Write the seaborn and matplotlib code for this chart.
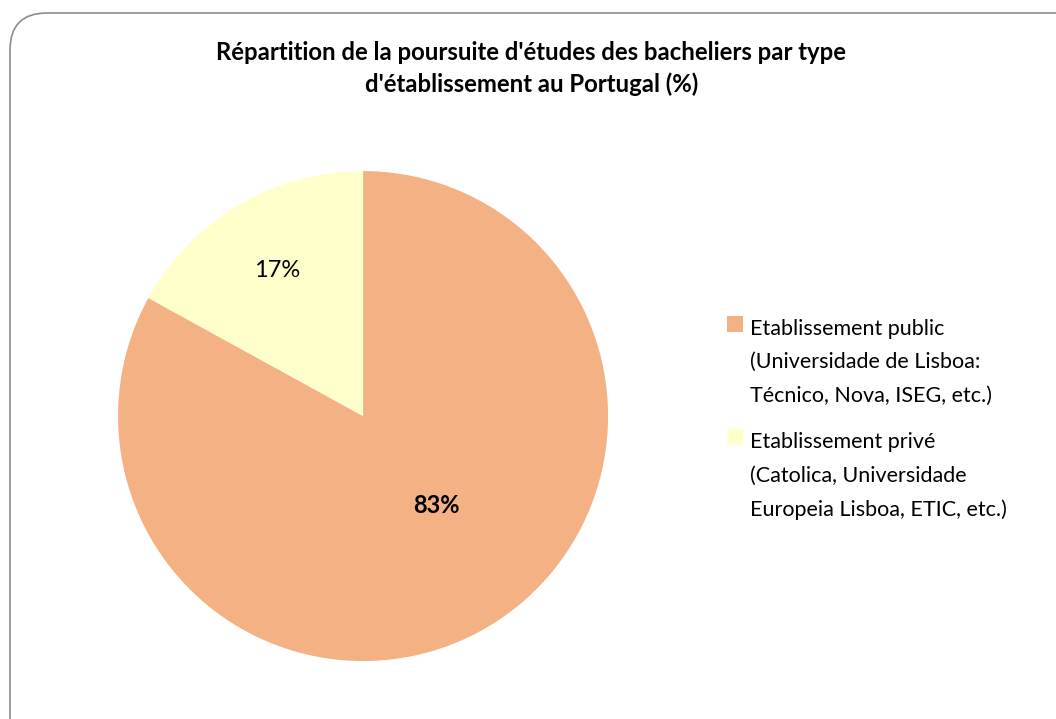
import matplotlib
matplotlib.use("Agg")
import matplotlib.pyplot as plt
from matplotlib.patches import FancyBboxPatch, Patch, Rectangle
from matplotlib.legend_handler import HandlerPatch
import seaborn as sns

sns.set_theme(style="white")
plt.rcParams['font.family'] = ['Lato', 'DejaVu Sans']
plt.rcParams['text.color'] = 'black'

# données
categories = ["Etablissement public\n(Universidade de Lisboa:\nTécnico, Nova, ISEG, etc.)",
              "Etablissement privé\n(Catolica, Universidade\nEuropeia Lisboa, ETIC, etc.)"]
parts = [83, 17]
colors = ["#F4B183", "#FFFFCC"]
title = "Répartition de la poursuite d'études des bacheliers par type\nd'établissement au Portugal (%)"

fig = plt.figure(figsize=(10.56, 7.19), dpi=100)

# cadre arrondi du graphique
frame = FancyBboxPatch((10 / 1056, -0.05), 1.2, 1 - 13 / 719 + 0.05,
                       boxstyle="round,pad=0,rounding_size=0.035",
                       transform=fig.transFigure, facecolor="white",
                       edgecolor="#8c8c8c", linewidth=1.2, mutation_aspect=1056 / 719,
                       zorder=-1)
fig.patches.append(frame)

ax = fig.add_axes([0.1118, 0.0806, 0.464, 0.6815])
ax.patch.set_visible(False)
wedges, texts, autotexts = ax.pie(parts, colors=colors, startangle=90, counterclock=False,
                                  radius=1, autopct="%1.0f%%", pctdistance=0.69,
                                  wedgeprops=dict(linewidth=0),
                                  textprops=dict(fontsize=17, color="black"))
autotexts[0].set_position((0.30, -0.365))
autotexts[0].set_fontweight("bold")
ax.set_xlim(-1, 1)
ax.set_ylim(-1, 1)
ax.set_aspect("equal")

fig.text(0.503, 0.943, title, ha="center", va="top", fontsize=17.2,
         fontweight="bold", linespacing=1.45, color="black")

line_sp = 1.82


# carré de légende calé sur la première ligne du libellé
def top_square(legend, orig_handle, xdescent, ydescent, width, height, fontsize):
    return Rectangle((-xdescent, -ydescent + fontsize * line_sp), width, height)


handles = [Patch(facecolor=c, edgecolor="none") for c in colors]
leg = fig.legend(handles, categories, loc="upper left", bbox_to_anchor=(0.6785, 0.571),
                 frameon=False, fontsize=15.5, handlelength=0.75, handleheight=0.75,
                 handletextpad=0.3, labelspacing=1.25, borderpad=0,
                 handler_map={Patch: HandlerPatch(patch_func=top_square)})
for t in leg.get_texts():
    t.set_linespacing(line_sp)
    t.set_color("black")

fig.savefig("out.png", dpi=100)
